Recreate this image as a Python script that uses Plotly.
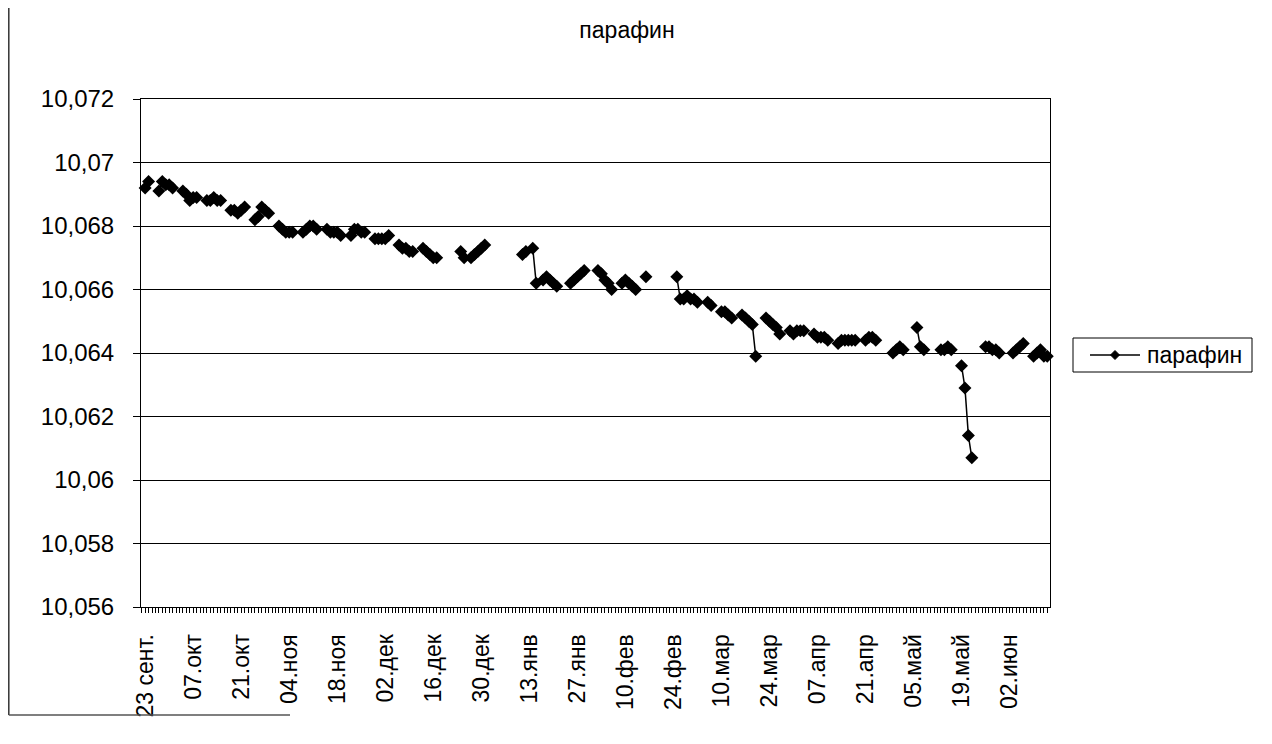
import pandas as pd
import plotly.graph_objects as go

# ---- data ----
dates = [
    "2004-09-23", "2004-09-24", "2004-09-27", "2004-09-28", "2004-09-29", "2004-09-30", "2004-10-01",
    "2004-10-04", "2004-10-05", "2004-10-06", "2004-10-07", "2004-10-08",
    "2004-10-11", "2004-10-12", "2004-10-13", "2004-10-14", "2004-10-15",
    "2004-10-18", "2004-10-19", "2004-10-20", "2004-10-21", "2004-10-22",
    "2004-10-25", "2004-10-26", "2004-10-27", "2004-10-28", "2004-10-29",
    "2004-11-01", "2004-11-02", "2004-11-03", "2004-11-04", "2004-11-05",
    "2004-11-08", "2004-11-09", "2004-11-10", "2004-11-11", "2004-11-12",
    "2004-11-15", "2004-11-16", "2004-11-17", "2004-11-18", "2004-11-19",
    "2004-11-22", "2004-11-23", "2004-11-24", "2004-11-25", "2004-11-26",
    "2004-11-29", "2004-11-30", "2004-12-01", "2004-12-02", "2004-12-03",
    "2004-12-06", "2004-12-07", "2004-12-08", "2004-12-09", "2004-12-10",
    "2004-12-13", "2004-12-14", "2004-12-15", "2004-12-16", "2004-12-17",
    "2004-12-24", "2004-12-25",
    "2004-12-27", "2004-12-28", "2004-12-29", "2004-12-30", "2004-12-31",
    "2005-01-11", "2005-01-12", "2005-01-14", "2005-01-15",
    "2005-01-17", "2005-01-18", "2005-01-19", "2005-01-20", "2005-01-21",
    "2005-01-25", "2005-01-26", "2005-01-27", "2005-01-28", "2005-01-29",
    "2005-02-02", "2005-02-03", "2005-02-04", "2005-02-05", "2005-02-06",
    "2005-02-09", "2005-02-10", "2005-02-11", "2005-02-12", "2005-02-13",
    "2005-02-16",
    "2005-02-25", "2005-02-26", "2005-02-27", "2005-02-28", "2005-03-01", "2005-03-02", "2005-03-03",
    "2005-03-06", "2005-03-07",
    "2005-03-10", "2005-03-11", "2005-03-12", "2005-03-13",
    "2005-03-16", "2005-03-17", "2005-03-18", "2005-03-19", "2005-03-20",
    "2005-03-23", "2005-03-24", "2005-03-25", "2005-03-26", "2005-03-27",
    "2005-03-30", "2005-03-31", "2005-04-01", "2005-04-02", "2005-04-03",
    "2005-04-06", "2005-04-07", "2005-04-08", "2005-04-09", "2005-04-10",
    "2005-04-13", "2005-04-14", "2005-04-15", "2005-04-16", "2005-04-17", "2005-04-18",
    "2005-04-21", "2005-04-22", "2005-04-23", "2005-04-24",
    "2005-04-29", "2005-04-30", "2005-05-01", "2005-05-02",
    "2005-05-06", "2005-05-07", "2005-05-08",
    "2005-05-13", "2005-05-14", "2005-05-15", "2005-05-16",
    "2005-05-19", "2005-05-20", "2005-05-21", "2005-05-22",
    "2005-05-26", "2005-05-27", "2005-05-28", "2005-05-29", "2005-05-30",
    "2005-06-03", "2005-06-04", "2005-06-05", "2005-06-06",
    "2005-06-09", "2005-06-10", "2005-06-11", "2005-06-12", "2005-06-13",
]

values = [
    10.0692, 10.0694, 10.0691, 10.0694, 10.0693, 10.0693, 10.0692,
    10.0691, 10.0690, 10.0688, 10.0689, 10.0689,
    10.0688, 10.0688, 10.0689, 10.0688, 10.0688,
    10.0685, 10.0685, 10.0684, 10.0685, 10.0686,
    10.0682, 10.0683, 10.0686, 10.0685, 10.0684,
    10.0680, 10.0679, 10.0678, 10.0678, 10.0678,
    10.0678, 10.0679, 10.0680, 10.0680, 10.0679,
    10.0679, 10.0678, 10.0678, 10.0678, 10.0677,
    10.0677, 10.0679, 10.0679, 10.0678, 10.0678,
    10.0676, 10.0676, 10.0676, 10.0676, 10.0677,
    10.0674, 10.0673, 10.0673, 10.0672, 10.0672,
    10.0673, 10.0672, 10.0671, 10.0670, 10.0670,
    10.0672, 10.0670,
    10.0670, 10.0671, 10.0672, 10.0673, 10.0674,
    10.0671, 10.0672, 10.0673, 10.0662,
    10.0663, 10.0664, 10.0663, 10.0662, 10.0661,
    10.0662, 10.0663, 10.0664, 10.0665, 10.0666,
    10.0666, 10.0665, 10.0663, 10.0662, 10.0660,
    10.0662, 10.0663, 10.0662, 10.0661, 10.0660,
    10.0664,
    10.0664, 10.0657, 10.0657, 10.0658, 10.0657, 10.0657, 10.0656,
    10.0656, 10.0655,
    10.0653, 10.0653, 10.0652, 10.0651,
    10.0652, 10.0651, 10.0650, 10.0649, 10.0639,
    10.0651, 10.0650, 10.0649, 10.0648, 10.0646,
    10.0647, 10.0646, 10.0647, 10.0647, 10.0647,
    10.0646, 10.0645, 10.0645, 10.0645, 10.0644,
    10.0643, 10.0644, 10.0644, 10.0644, 10.0644, 10.0644,
    10.0644, 10.0645, 10.0645, 10.0644,
    10.0640, 10.0641, 10.0642, 10.0641,
    10.0648, 10.0642, 10.0641,
    10.0641, 10.0641, 10.0642, 10.0641,
    10.0636, 10.0629, 10.0614, 10.0607,
    10.0642, 10.0642, 10.0641, 10.0641, 10.0640,
    10.0640, 10.0641, 10.0642, 10.0643,
    10.0639, 10.0640, 10.0641, 10.0639, 10.0639,
]

x_tick_dates = [
    "2004-09-23", "2004-10-07", "2004-10-21", "2004-11-04", "2004-11-18",
    "2004-12-02", "2004-12-16", "2004-12-30", "2005-01-13", "2005-01-27",
    "2005-02-10", "2005-02-24", "2005-03-10", "2005-03-24", "2005-04-07",
    "2005-04-21", "2005-05-05", "2005-05-19", "2005-06-02",
]
x_tick_labels = [
    "23 сент.", "07.окт", "21.окт", "04.ноя", "18.ноя",
    "02.дек", "16.дек", "30.дек", "13.янв", "27.янв",
    "10.фев", "24.фев", "10.мар", "24.мар", "07.апр",
    "21.апр", "05.май", "19.май", "02.июн",
]
y_tick_vals = [10.056, 10.058, 10.060, 10.062, 10.064, 10.066, 10.068, 10.070, 10.072]
y_tick_labels = ["10,056", "10,058", "10,06", "10,062", "10,064", "10,066", "10,068", "10,07", "10,072"]

series_name = "парафин"
title_text = "парафин"

assert len(dates) == len(values)

# daily index: missing days stay empty so the line breaks (Excel "gaps")
s = pd.Series(values, index=pd.to_datetime(dates))
full_idx = pd.date_range(s.index.min(), s.index.max(), freq="D")
s = s.reindex(full_idx)

FONT = "Liberation Sans, Arial, sans-serif"

# page is rendered with an 8px body margin -> figure coordinates = page - 8
W, H = 1264, 736
PL, PR, PT, PB = 133, 1042, 91, 599   # plot area in figure pixels


def px(xv):
    return (xv - PL) / (PR - PL)


def py(yv):
    return (PB - yv) / (PB - PT)


fig = go.Figure()
fig.add_trace(go.Scatter(
    x=s.index, y=s.values,
    mode="lines+markers",
    name=series_name,
    showlegend=False,
    connectgaps=False,
    cliponaxis=False,
    line=dict(color="black", width=1.5),
    marker=dict(symbol="diamond", size=10, color="black"),
))

fig.update_layout(
    width=W, height=H,
    margin=dict(l=PL, r=W - PR, t=PT, b=H - PB, autoexpand=False),
    paper_bgcolor="white", plot_bgcolor="white",
    font=dict(family=FONT, size=24, color="black"),
    title=dict(text=title_text, x=619 / W, xref="container", xanchor="center",
               y=1 - 22 / H, yref="container", yanchor="middle",
               font=dict(family=FONT, size=23, color="black")),
    showlegend=False,
    xaxis=dict(
        type="date",
        range=["2004-09-21 19:00", "2005-06-13 19:00"],
        showline=True, linecolor="black", linewidth=1, mirror=True,
        showgrid=False, zeroline=False,
        tickmode="array", tickvals=x_tick_dates, ticktext=x_tick_labels,
        tickangle=-90, ticks="outside", ticklen=5, tickcolor="black",
        tickfont=dict(family=FONT, size=23, color="black"),
        ticklabelstandoff=12,
        minor=dict(ticks="outside", ticklen=5, tickcolor="black",
                   dtick=86400000, tick0="2004-09-23", showgrid=False),
    ),
    yaxis=dict(
        range=[10.056, 10.072],
        showline=True, linecolor="black", linewidth=1, mirror=True,
        showgrid=True, gridcolor="black", gridwidth=1, zeroline=False,
        tickmode="array", tickvals=y_tick_vals, ticktext=y_tick_labels,
        ticks="outside", ticklen=7, tickcolor="black",
        tickfont=dict(family=FONT, size=24, color="black"),
        ticklabelstandoff=14,
    ),
)

# legend box drawn like the Excel one (line sample with diamond + label)
LX0, LX1, LY0, LY1 = 1065, 1244, 330, 364
LYC = (LY0 + LY1) / 2
fig.add_shape(type="rect", xref="paper", yref="paper",
              x0=px(LX0), x1=px(LX1), y0=py(LY1), y1=py(LY0),
              line=dict(color="black", width=1), fillcolor="white")
fig.add_shape(type="line", xref="paper", yref="paper",
              x0=px(1082), x1=px(1132), y0=py(LYC), y1=py(LYC),
              line=dict(color="black", width=1.5))
DX, DY, CX = 4.5, 4.5, 1107
fig.add_shape(type="path", xref="paper", yref="paper",
              path=(f"M {px(CX - DX)},{py(LYC)} L {px(CX)},{py(LYC - DY)} "
                    f"L {px(CX + DX)},{py(LYC)} L {px(CX)},{py(LYC + DY)} Z"),
              line=dict(color="black", width=1), fillcolor="black")
fig.add_annotation(xref="paper", yref="paper", x=px(1137), y=py(LYC),
                   xanchor="left", yanchor="middle", showarrow=False,
                   text=series_name, font=dict(family=FONT, size=23, color="black"))

# chart-area border remnants (left edge and part of bottom edge)
fig.add_shape(type="line", xref="paper", yref="paper",
              x0=px(0.8), x1=px(0.8), y0=py(707), y1=py(0),
              line=dict(color="#333333", width=1.5))
fig.add_shape(type="line", xref="paper", yref="paper",
              x0=px(0.8), x1=px(282), y0=py(707), y1=py(707),
              line=dict(color="#555555", width=1.5))

fig.write_html("out.html")
